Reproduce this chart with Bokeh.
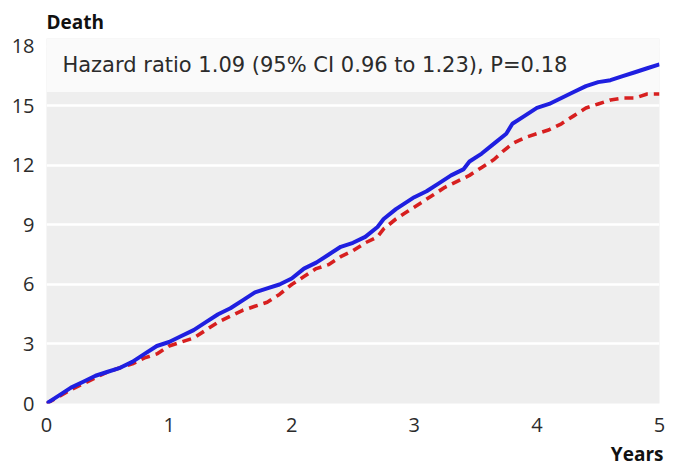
from bokeh.plotting import figure
from bokeh.models import Range1d, FixedTicker, Label, BoxAnnotation, Title
from bokeh.embed import file_html
from bokeh.resources import INLINE

# Cumulative incidence of death (%) by years of follow-up
blue_years = [0, 0.1, 0.2, 0.3, 0.4, 0.5, 0.6, 0.7, 0.8, 0.9, 1.0, 1.1, 1.2, 1.3, 1.4,
              1.5, 1.6, 1.7, 1.8, 1.9, 2.0, 2.1, 2.2, 2.3, 2.4, 2.5, 2.6, 2.7, 2.75,
              2.85, 3.0, 3.1, 3.2, 3.3, 3.4, 3.45, 3.55, 3.65, 3.75, 3.8, 3.9, 4.0,
              4.1, 4.2, 4.3, 4.4, 4.5, 4.6, 4.7, 4.8, 4.9, 5.0]
blue_death = [0, 0.4, 0.8, 1.1, 1.4, 1.6, 1.8, 2.1, 2.5, 2.9, 3.1, 3.4, 3.7, 4.1, 4.5,
              4.8, 5.2, 5.6, 5.8, 6.0, 6.3, 6.8, 7.1, 7.5, 7.9, 8.1, 8.4, 8.9, 9.3,
              9.8, 10.4, 10.7, 11.1, 11.5, 11.8, 12.2, 12.6, 13.1, 13.6, 14.1, 14.5,
              14.9, 15.1, 15.4, 15.7, 16.0, 16.2, 16.3, 16.5, 16.7, 16.9, 17.1]

red_years = [0, 0.1, 0.2, 0.3, 0.4, 0.5, 0.6, 0.7, 0.8, 0.9, 1.0, 1.1, 1.2, 1.3, 1.4,
             1.5, 1.6, 1.7, 1.8, 1.9, 2.0, 2.1, 2.2, 2.3, 2.4, 2.5, 2.6, 2.7, 2.75,
             2.85, 2.95, 3.05, 3.15, 3.25, 3.35, 3.45, 3.55, 3.65, 3.72, 3.8, 3.9,
             4.0, 4.1, 4.2, 4.3, 4.4, 4.5, 4.6, 4.7, 4.8, 4.9, 5.0]
red_death = [0, 0.35, 0.7, 1.0, 1.3, 1.6, 1.8, 2.0, 2.3, 2.5, 2.9, 3.1, 3.3, 3.7, 4.1,
             4.4, 4.7, 4.9, 5.1, 5.5, 6.0, 6.4, 6.8, 7.0, 7.4, 7.7, 8.1, 8.4, 8.8,
             9.3, 9.7, 10.1, 10.5, 10.9, 11.2, 11.5, 11.9, 12.3, 12.7, 13.1, 13.4,
             13.6, 13.8, 14.1, 14.5, 14.9, 15.1, 15.3, 15.4, 15.4, 15.6, 15.6]

x_ticks = [0, 1, 2, 3, 4, 5]
y_ticks = [0, 3, 6, 9, 12, 15, 18]
annotation_text = "Hazard ratio 1.09 (95% CI 0.96 to 1.23), P=0.18"

FONT = "Open Sans"
TEXT = "#2b2b2b"

p = figure(width=693, height=470, output_backend="svg", toolbar_location=None,
           x_range=Range1d(0, 5), y_range=Range1d(0, 18.4),
           min_border_left=46, min_border_right=34, min_border_top=38,
           min_border_bottom=0)
p.background_fill_color = "#eeeeee"
p.border_fill_color = "white"
p.outline_line_color = None

# axes: labels only
for ax in (p.xaxis[0], p.yaxis[0]):
    ax.axis_line_color = None
    ax.major_tick_line_color = None
    ax.minor_tick_line_color = None
    ax.major_label_text_font = FONT
    ax.major_label_text_font_size = "20px"
    ax.major_label_text_color = TEXT
p.xaxis.ticker = FixedTicker(ticks=x_ticks)
p.yaxis.ticker = FixedTicker(ticks=y_ticks)
p.xaxis.major_label_standoff = 8
p.yaxis.major_label_standoff = 6

p.xgrid.grid_line_color = None
p.ygrid.ticker = FixedTicker(ticks=y_ticks)
p.ygrid.grid_line_color = "white"
p.ygrid.grid_line_width = 2.5

# axis captions
p.title.text = "Death"
p.title.align = "left"
p.title.text_font = FONT
p.title.text_font_size = "19px"
p.title.text_font_style = "bold"
p.title.text_color = "#111111"
p.title.standoff = 8
p.add_layout(Title(text="Years", align="right", text_font=FONT, text_font_size="19px",
                   text_font_style="bold", text_color="#111111", standoff=8,
                   offset=-4), "below")

# light panel behind the hazard ratio text
p.add_layout(BoxAnnotation(bottom=15.7, top=18.4, fill_color="#fafafa", fill_alpha=1,
                           line_color=None, level="underlay"))

p.line(red_years, red_death, line_color="#d71f1f", line_width=3.6, line_dash="9 6")
p.line(blue_years, blue_death, line_color="#1f1fe0", line_width=4)

p.add_layout(Label(x=0.13, y=17.05, text=annotation_text, text_font="DejaVu Sans",
                   text_font_size="21px", text_color=TEXT, text_baseline="middle"))

open("out.html", "w").write(file_html(p, INLINE))
